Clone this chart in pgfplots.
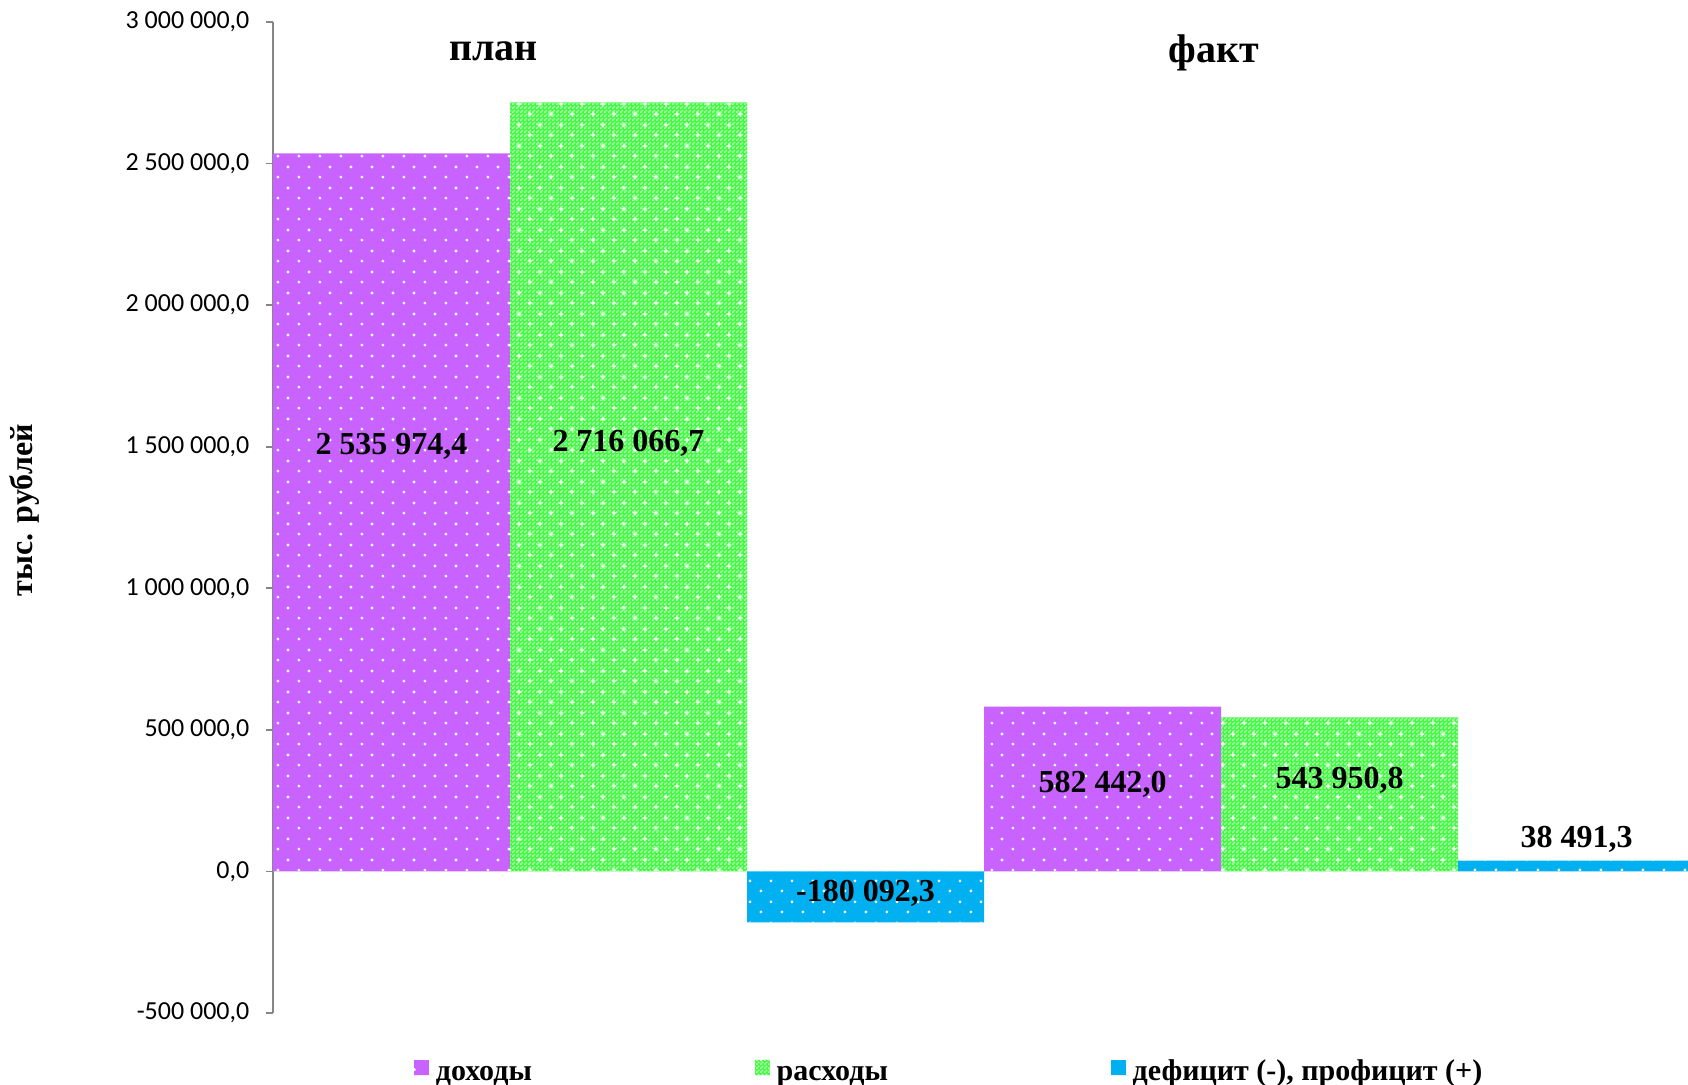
\documentclass[border=0pt]{standalone}
\usepackage{fontspec}
\setmainfont{Liberation Serif}
\newfontfamily\tickfont{Carlito}
\usepackage{pgfplots}
\pgfplotsset{compat=1.18}
\usetikzlibrary{patterns}

\definecolor{dohod}{HTML}{C963FF}
\definecolor{rashod}{HTML}{44F844}
\definecolor{rashodlt}{HTML}{B8FFB8}
\definecolor{defic}{HTML}{00B0F0}
\definecolor{axgray}{HTML}{868686}

% staggered white dots
\pgfdeclarepatternformonly{sdots}{\pgfqpoint{0pt}{0pt}}{\pgfqpoint{10.5pt}{10.5pt}}{\pgfqpoint{10.5pt}{10.5pt}}{%
  \pgfpathcircle{\pgfqpoint{2.6pt}{2.6pt}}{0.8pt}%
  \pgfpathcircle{\pgfqpoint{7.85pt}{7.85pt}}{0.8pt}%
  \pgfusepath{fill}}
% staggered small plus signs
\pgfdeclarepatternformonly{splus}{\pgfqpoint{0pt}{0pt}}{\pgfqpoint{10.5pt}{10.5pt}}{\pgfqpoint{10.5pt}{10.5pt}}{%
  \pgfpathrectangle{\pgfqpoint{1.4pt}{2.25pt}}{\pgfqpoint{2.4pt}{0.7pt}}%
  \pgfpathrectangle{\pgfqpoint{2.25pt}{1.4pt}}{\pgfqpoint{0.7pt}{2.4pt}}%
  \pgfpathrectangle{\pgfqpoint{6.65pt}{7.5pt}}{\pgfqpoint{2.4pt}{0.7pt}}%
  \pgfpathrectangle{\pgfqpoint{7.5pt}{6.65pt}}{\pgfqpoint{0.7pt}{2.4pt}}%
  \pgfusepath{fill}}
% fine checker
\pgfdeclarepatternformonly{fchk}{\pgfqpoint{0pt}{0pt}}{\pgfqpoint{2pt}{2pt}}{\pgfqpoint{2pt}{2pt}}{%
  \pgfpathrectangle{\pgfqpoint{0pt}{0pt}}{\pgfqpoint{1pt}{1pt}}%
  \pgfpathrectangle{\pgfqpoint{1pt}{1pt}}{\pgfqpoint{1pt}{1pt}}%
  \pgfusepath{fill}}

\newcommand\lab{\fontsize{16}{19}\bfseries\selectfont}

\begin{document}
\begin{tikzpicture}
\begin{axis}[
    scale only axis,
    width=707.5pt, height=495.5pt,
    xmin=-0.5, xmax=5.47,
    ymin=-500000, ymax=3000000,
    clip mode=individual,
    axis x line=none,
    axis y line*=left,
    axis line style={draw=axgray, line width=0.8pt},
    ytick={-500000,0,500000,1000000,1500000,2000000,2500000,3000000},
    tick align=outside,
    major tick length=3.5pt,
    ytick style={draw=axgray, line width=0.8pt},
    scaled y ticks=false,
    yticklabel style={font=\tickfont\fontsize{13}{15}\selectfont, xshift=-4.8pt},
    /pgf/number format/.cd, fixed, fixed zerofill, precision=1, use comma,
        1000 sep={\ }, assume math mode=true,
    /pgfplots/.cd,
    ybar, bar width=1,
    legend columns=3,
    legend cell align=left,
    legend style={at={(rel axis cs:0.1,0)}, anchor=north west, xshift=-3.5pt, yshift=-21.3pt,
        draw=none, fill=none, font=\fontsize{15}{18}\bfseries\selectfont,
        nodes={text depth=0.3em, text height=0.75em},
        /tikz/every even column/.append style={column sep=109.4pt}},
    legend image code/.code={\path[#1, draw=none] (0pt,0.5pt) rectangle (7.5pt,8pt);
        \path (0pt,0pt) -- (9pt,0pt);},
]
\addplot[bar shift=0pt, draw=none, fill=dohod,
    postaction={pattern=sdots, pattern color=white}]
    coordinates {(0,2535974.4) (3,582442.0)};
\addplot[bar shift=0pt, draw=none, fill=rashod,
    postaction={pattern=fchk, pattern color=rashodlt},
    postaction={pattern=splus, pattern color=white}]
    coordinates {(1,2716066.7) (4,543950.8)};
\addplot[bar shift=0pt, draw=none, fill=defic,
    postaction={pattern=sdots, pattern color=white}]
    coordinates {(2,-180092.3) (5,38491.3)};
\legend{доходы, расходы, {дефицит (-), профицит (+)}}

\node[font=\lab, anchor=base] at (axis cs:0,1472000) {2 535 974,4};
\node[font=\lab, anchor=base] at (axis cs:1,1483000) {2 716 066,7};
\node[font=\lab, anchor=base] at (axis cs:2,-105900) {-180 092,3};
\node[font=\lab, anchor=base] at (axis cs:3,280000) {582 442,0};
\node[font=\lab, anchor=base] at (axis cs:4,293000) {543 950,8};
\node[font=\lab, anchor=base] at (axis cs:5,85800) {38 491,3};

\node[font=\fontsize{20}{24}\bfseries\selectfont, anchor=base] at (axis cs:0.43,2863700) {план};
\node[font=\fontsize{20}{24}\bfseries\selectfont, anchor=base] at (axis cs:3.47,2857000) {факт};

\node[font=\fontsize{16}{19}\bfseries\selectfont, rotate=90, anchor=base]
    at ([xshift=-120pt]axis cs:-0.5,1274700) {тыс. рублей};

\coordinate (sw) at (rel axis cs:0,0);
\end{axis}
\pgfresetboundingbox
\path ([shift={(-136.5pt,-36pt)}]sw) rectangle ++(844pt,542.5pt);
\end{tikzpicture}
\end{document}
